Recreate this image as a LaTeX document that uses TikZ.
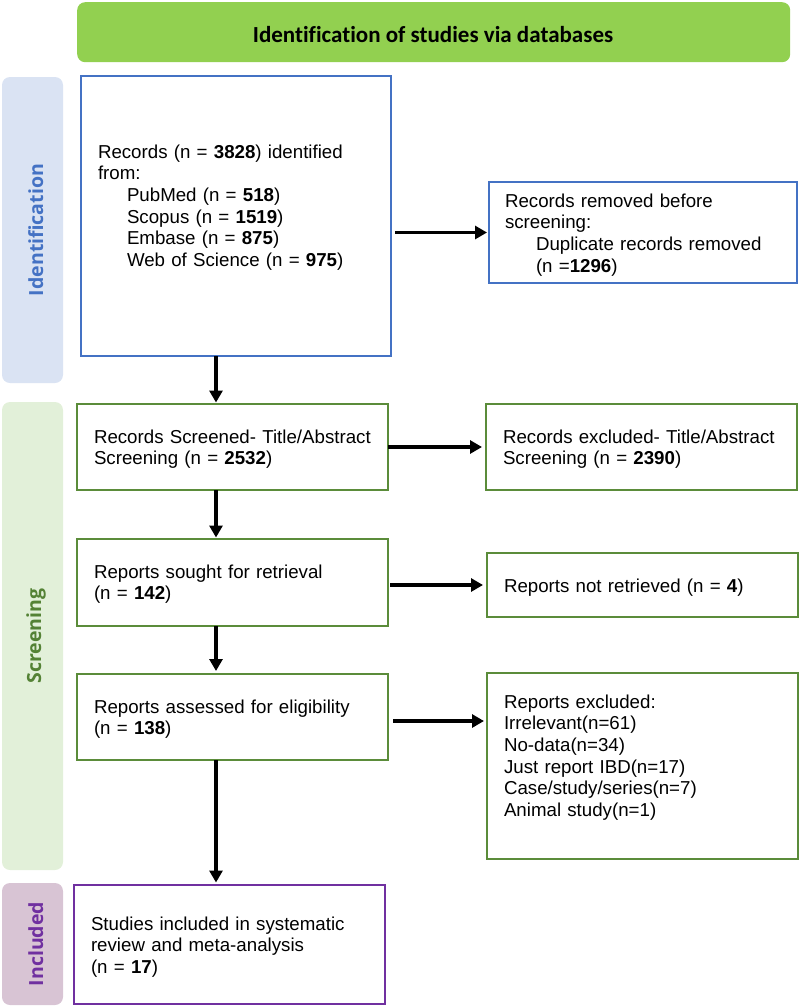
\documentclass[tikz,border=0pt]{standalone}
\usepackage{fontspec}
\setmainfont{Liberation Sans}
\newfontfamily\hdrfont{Carlito}[Ligatures=NoCommon]
\newfontfamily\lblfont{Open Sans}
\usetikzlibrary{arrows.meta}
\definecolor{hdrgreen}{HTML}{92D050}
\definecolor{idfill}{HTML}{DAE3F3}
\definecolor{idblue}{HTML}{4472C4}
\definecolor{scfill}{HTML}{E2F0D9}
\definecolor{scgreen}{HTML}{548235}
\definecolor{bxgreen}{HTML}{5B8C3A}
\definecolor{infill}{HTML}{D8C4D4}
\definecolor{inpurple}{HTML}{7030A0}
\begin{document}
\begin{tikzpicture}[x=1pt,y=-1pt,
  box/.style={draw, line width=1.8pt, inner sep=0pt, outer sep=0pt, anchor=north west},
  lane/.style={rounded corners=8pt, inner sep=0pt, outer sep=0pt, anchor=north west, minimum width=61pt},
  lbl/.style={rotate=90, anchor=base, font=\lblfont\bfseries\fontsize{19.5}{23}\selectfont},
  txt/.style={anchor=base west, inner sep=0pt, outer sep=0pt, align=left, text width=300pt,
    font=\fontsize{18.7}{21.7}\selectfont},
  arr/.style={line width=3.2pt, -{Triangle[length=12pt,width=13pt]}}
]
\useasboundingbox (0,0) rectangle (800,1007);

% header
\node[anchor=north west, fill=hdrgreen, rounded corners=8pt, minimum width=713pt, minimum height=60pt, inner sep=0pt] (hdr) at (77,2) {};
\node[anchor=base, inner sep=0pt, font=\hdrfont\bfseries\fontsize{23}{27}\selectfont] (hdrt) at (433,42) {Identification of studies via databases};

% lanes
\node[lane, fill=idfill, minimum height=306pt] (idl) at (2,77) {};
\node[lbl, text=idblue] (idt) at (43,230) {Identification};
\node[lane, fill=scfill, minimum height=468pt] (scl) at (2,402) {};
\node[lbl, text=scgreen] (sct) at (41,636) {Screening};
\node[lane, fill=infill, minimum height=122pt] (inl) at (2,883) {};
\node[lbl, text=inpurple] (int) at (43,944) {Included};

% boxes
\node[box, draw=idblue, minimum width=310pt, minimum height=280pt] (rec) at (81,76) {};
\node[box, draw=idblue, minimum width=308pt, minimum height=101pt] (dup) at (489,182) {};
\node[box, draw=bxgreen, minimum width=311pt, minimum height=86pt] (scr) at (77,404) {};
\node[box, draw=bxgreen, minimum width=311pt, minimum height=86pt] (exc) at (486,404) {};
\node[box, draw=bxgreen, minimum width=311pt, minimum height=87pt] (sou) at (77,539) {};
\node[box, draw=bxgreen, minimum width=311pt, minimum height=64pt] (nret) at (487,553) {};
\node[box, draw=bxgreen, minimum width=311pt, minimum height=86pt] (ass) at (77,674) {};
\node[box, draw=bxgreen, minimum width=311pt, minimum height=186pt] (rexc) at (487,673) {};
\node[box, draw=inpurple, minimum width=311pt, minimum height=119pt] (inc) at (74,885) {};

% texts
\node[txt] (rect) at (98,158) {Records (n = \textbf{3828}) identified\\from:\\
  \hspace*{29pt}PubMed (n = \textbf{518})\\
  \hspace*{29pt}Scopus (n = \textbf{1519})\\
  \hspace*{29pt}Embase (n = \textbf{875})\\
  \hspace*{29pt}Web of Science (n = \textbf{975})};
\node[txt] (dupt) at (505,207) {Records removed before\\screening:\\
  \hspace*{31pt}Duplicate records removed\\
  \hspace*{31pt}(n =\textbf{1296})};
\node[txt] (scrt) at (94,443) {Records Screened- Title/Abstract\\Screening (n = \textbf{2532})};
\node[txt] (exct) at (503,443) {Records excluded- Title/Abstract\\Screening (n = \textbf{2390})};
\node[txt] (sout) at (94,578) {Reports sought for retrieval\\(n = \textbf{142})};
\node[txt] (nrett) at (504,592) {Reports not retrieved (n = \textbf{4})};
\node[txt] (asst) at (94,713) {Reports assessed for eligibility\\(n = \textbf{138})};
\node[txt] (rexct) at (504,708) {Reports excluded:\\Irrelevant(n=61)\\No-data(n=34)\\Just report IBD(n=17)\\Case/study/series(n=7)\\Animal study(n=1)};
\node[txt] (inct) at (91,930) {Studies included in systematic\\review and meta-analysis\\(n = \textbf{17})};

% connectors
\coordinate (ax) at (216,0);
\coordinate (ay) at (0,721);
\draw[arr, shorten >=1.5pt] (rec.south -| ax) -- (scr.north -| ax);
\draw[arr, shorten >=1.5pt] (scr.south -| ax) -- (sou.north -| ax);
\draw[arr, shorten >=3pt] (sou.south -| ax) -- (ass.north -| ax);
\draw[arr, shorten >=2.5pt] (ass.south -| ax) -- (inc.north -| ax);
\draw[arr, shorten <=4pt, shorten >=2pt] (rec.east |- dup.west) -- (dup.west);
\draw[arr, shorten >=4pt] (scr.east) -- (exc.west |- scr.east);
\draw[arr, shorten <=2pt, shorten >=4pt] (sou.east |- nret.west) -- (nret.west);
\draw[arr, shorten <=5pt, shorten >=3pt] (ass.east |- ay) -- (rexc.west |- ay);
\end{tikzpicture}
\end{document}
